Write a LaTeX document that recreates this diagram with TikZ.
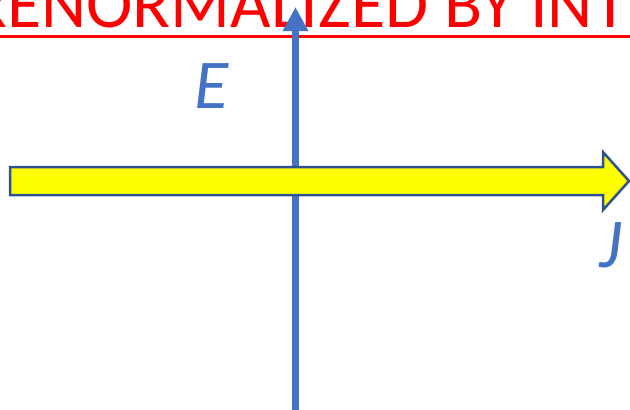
\documentclass[tikz,border=0pt]{standalone}
\usepackage{fontspec}
\newfontfamily\carlito{Carlito}
\usetikzlibrary{arrows.meta}
\definecolor{axisblue}{HTML}{4472C4}
\definecolor{edgeblue}{HTML}{2F528F}
\definecolor{titlered}{HTML}{FF0000}
\definecolor{jyellow}{HTML}{FFFF00}
\begin{document}
\begin{tikzpicture}[x=1pt, y=-1pt,
    eaxis/.style={line width=7pt, axisblue, -{Triangle[width=24pt, length=24pt]}},
    jarrow/.style={line width=2.5pt, draw=edgeblue, fill=jyellow, line join=miter},
    axislabel/.style={inner sep=0pt, anchor=base west, text=axisblue,
        font=\fontsize{70}{70}\selectfont\carlito\itshape},
    title/.style={inner sep=0pt, anchor=base west, text=titlered,
        font=\fontsize{70}{70}\selectfont\carlito}]
    \clip (0,0) rectangle (630,410);

    % Titolo
    \node[title] (titolo) at (-31,27) {RENORMALIZED BY INT};
    \draw[titlered, line width=3pt] (0,36.5) -- (630,36.5);

    % Asse E
    \coordinate (Ebot) at (295.5,410);
    \coordinate (Etop) at (295.5,7);
    \draw[eaxis] (Ebot) -- (Etop);

    % Freccia J
    \draw[jarrow] (10,167) -- (603,167) -- (603,152) -- (629,181)
        -- (603,210) -- (603,195) -- (10,195) -- cycle;

    % Etichette
    \node[axislabel] (E) at (194,108) {E};
    \node[axislabel] (J) at (599,267) {J};
\end{tikzpicture}
\end{document}
